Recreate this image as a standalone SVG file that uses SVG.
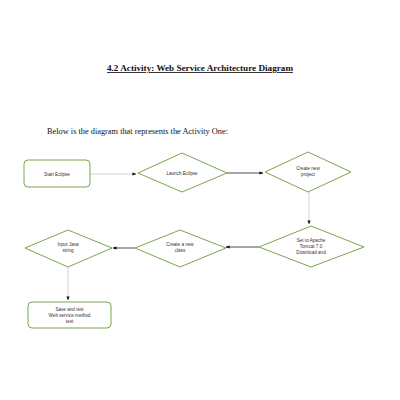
<svg xmlns="http://www.w3.org/2000/svg" width="400" height="400" viewBox="0 0 400 400">
<style>
.node{fill:#fff;stroke:#7aa64e;stroke-width:1}
.lbl{font-family:"Liberation Sans",Arial,sans-serif;font-size:4.6px;fill:#333;text-anchor:middle}
.c{fill:none;stroke-width:0.8}
.g{stroke:#c8c8c8}
.k{stroke:#222}
.ttl{font-family:"Liberation Serif","Times New Roman",serif;font-weight:bold;font-size:8.4px;fill:#111;text-decoration:underline}
.sub{font-family:"Liberation Serif","Times New Roman",serif;font-size:7.4px;fill:#111}
</style>
<defs>
<marker id="ah" viewBox="0 0 10 10" refX="9" refY="5" markerWidth="5" markerHeight="5" orient="auto"><path d="M0,1 L10,5 L0,9 z" fill="#111"/></marker>
</defs>
<rect width="400" height="400" fill="#fff"/>
<text class="ttl" x="107" y="71" textLength="186" lengthAdjust="spacingAndGlyphs">4.2 Activity: Web Service Architecture Diagram</text>
<text class="sub" x="47" y="134" textLength="181" lengthAdjust="spacingAndGlyphs">Below is the diagram that represents the Activity One:</text>
<g id="connectors">
<line class="c g" x1="90" y1="174" x2="136" y2="174" marker-end="url(#ah)"/>
<line class="c k" x1="227" y1="173" x2="263" y2="173" marker-end="url(#ah)"/>
<line class="c g" x1="309" y1="192" x2="309" y2="224" marker-end="url(#ah)"/>
<line class="c k" x1="259" y1="247" x2="226" y2="247" marker-end="url(#ah)"/>
<line class="c k" x1="135" y1="248" x2="113" y2="248" marker-end="url(#ah)"/>
<line class="c g" x1="68" y1="267" x2="68" y2="300" marker-end="url(#ah)"/>
</g>
<g id="n1"><rect class="node" x="24" y="160" width="66" height="27" rx="4"/><text class="lbl" x="57" y="175.5">Start Eclipse</text></g>
<g id="n2"><polygon class="node" points="182,153 227,173 182,192 138,173"/><text class="lbl" x="182" y="174.5">Launch Eclipse</text></g>
<g id="n3"><polygon class="node" points="308,152 351,172 308,192 265,172"/><text class="lbl" x="308" y="170">Create new</text><text class="lbl" x="308" y="176">project</text></g>
<g id="n4"><polygon class="node" points="311,226 364,247 311,267 259,247"/><text class="lbl" x="311" y="242">Set to Apache</text><text class="lbl" x="311" y="248">Tomcat 7.0</text><text class="lbl" x="311" y="254">Download and</text></g>
<g id="n5"><polygon class="node" points="180,230 226,248 180,267 135,248"/><text class="lbl" x="180" y="246">Create a new</text><text class="lbl" x="180" y="252">class</text></g>
<g id="n6"><polygon class="node" points="68,230 112,248 68,267 25,248"/><text class="lbl" x="68" y="246">Input Java</text><text class="lbl" x="68" y="252">string</text></g>
<g id="n7"><rect class="node" x="28" y="302" width="83" height="26" rx="4"/><text class="lbl" x="69.5" y="311">Save and test</text><text class="lbl" x="69.5" y="317">Web service method</text><text class="lbl" x="69.5" y="323">test</text></g>
</svg>
